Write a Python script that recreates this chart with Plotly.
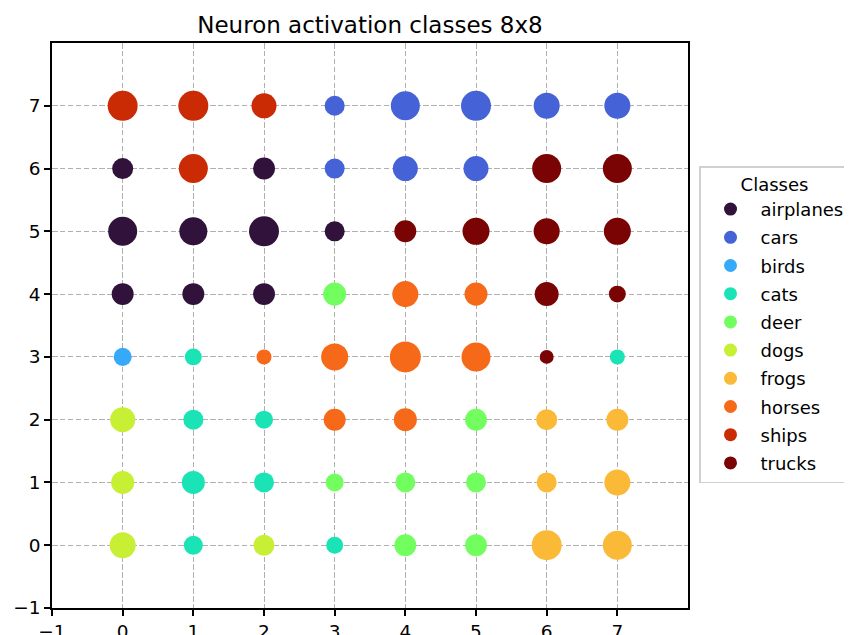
import plotly.graph_objects as go

classes = ["airplanes", "cars", "birds", "cats", "deer", "dogs", "frogs", "horses", "ships", "trucks"]
class_colors = ["#30123b", "#4662d7", "#36aaf9", "#1ae4b6", "#72fe5e",
                "#c7ef34", "#fbb938", "#f56918", "#ca2a04", "#7a0403"]

# grid rows from y=7 (top) down to y=0; columns x=0..7
row_y = [7, 6, 5, 4, 3, 2, 1, 0]
col_x = [0, 1, 2, 3, 4, 5, 6, 7]

cell_class = [
    ["ships", "ships", "ships", "cars", "cars", "cars", "cars", "cars"],
    ["airplanes", "ships", "airplanes", "cars", "cars", "cars", "trucks", "trucks"],
    ["airplanes", "airplanes", "airplanes", "airplanes", "trucks", "trucks", "trucks", "trucks"],
    ["airplanes", "airplanes", "airplanes", "deer", "horses", "horses", "trucks", "trucks"],
    ["birds", "cats", "horses", "horses", "horses", "horses", "trucks", "cats"],
    ["dogs", "cats", "cats", "horses", "horses", "deer", "frogs", "frogs"],
    ["dogs", "cats", "cats", "deer", "deer", "deer", "frogs", "frogs"],
    ["dogs", "cats", "dogs", "cats", "deer", "deer", "frogs", "frogs"],
]

# activation strength (marker area, pt^2)
cell_value = [
    [263, 263, 183, 117, 246, 263, 198, 198],
    [129, 246, 141, 117, 183, 183, 246, 246],
    [246, 229, 263, 117, 141, 213, 198, 213],
    [141, 141, 141, 155, 198, 155, 168, 84],
    [95, 84, 66, 213, 281, 246, 57, 66],
    [183, 117, 95, 141, 155, 141, 129, 141],
    [155, 155, 117, 95, 117, 117, 117, 198],
    [198, 105, 129, 84, 141, 141, 263, 246],
]

FONT = "DejaVu Sans"
OFF = 8  # page body margin in the browser
W, H = 852 - OFF, 635 - OFF

fig = go.Figure()

for cls, col in zip(classes, class_colors):
    xs, ys, vs = [], [], []
    for r, yv in enumerate(row_y):
        for c, xv in enumerate(col_x):
            if cell_class[r][c] == cls:
                xs.append(xv); ys.append(yv); vs.append(cell_value[r][c])
    fig.add_trace(go.Scatter(
        x=xs, y=ys, mode="markers", showlegend=False, name=cls,
        marker=dict(size=vs, sizemode="area", sizeref=2 / 1.85 ** 2,
                    color=col, opacity=1, line=dict(width=0)),
    ))

for i, (cls, col) in enumerate(zip(classes, class_colors)):
    fig.add_trace(go.Scatter(
        x=[None], y=[None], mode="markers", name=cls, legendgroup=str(i),
        marker=dict(size=13, color=col, opacity=1, line=dict(width=0)),
    ))

axis_common = dict(
    range=[-1, 8], tickmode="array", tickvals=[-1, 0, 1, 2, 3, 4, 5, 6, 7],
    showgrid=True, gridcolor="#b0b0b0", griddash="5.5px,2.4px", gridwidth=1.4,
    zeroline=False, showline=True, linecolor="black", linewidth=1.5, mirror=True,
    ticks="outside", ticklen=6, tickcolor="black", tickwidth=1.5,
    tickfont=dict(family=FONT, size=18.5, color="black"),
    automargin=False,
)

fig.update_layout(
    width=W, height=H,
    margin=dict(l=52 - OFF, r=852 - 688, t=43 - OFF, b=635 - 608, autoexpand=False),
    paper_bgcolor="white", plot_bgcolor="white",
    title=dict(text="Neuron activation classes 8x8",
               xref="container", x=((52 + 688) / 2 - OFF) / W,
               xanchor="center", yref="container", y=1 - (25 - OFF) / H, yanchor="middle",
               font=dict(family=FONT, size=23, color="black")),
    xaxis=axis_common, yaxis=axis_common,
    legend=dict(
        xref="container", yref="container",
        x=(699 - OFF) / W, xanchor="left", y=1 - (166 - OFF) / H, yanchor="top",
        bordercolor="#d0d0d0", borderwidth=1.5, bgcolor="white",
        font=dict(family=FONT, size=18, color="black"),
        title=dict(text="Classes", side="top center", font=dict(family=FONT, size=18, color="black")),
        tracegroupgap=1.8, itemwidth=50, maxheight=500,
    ),
)

fig.write_html("out.html")
